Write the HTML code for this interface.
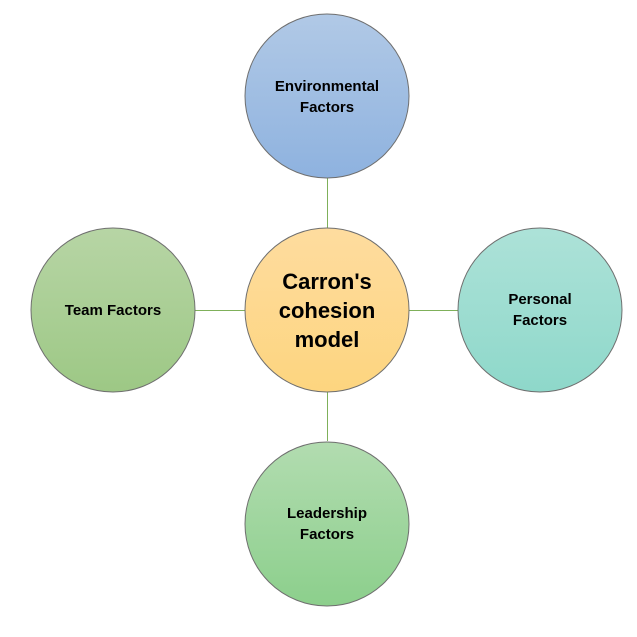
<!DOCTYPE html>
<html><head><meta charset="utf-8"><style>body{margin:0;background:#fff}</style></head><body>
<svg width="637" height="632" xmlns="http://www.w3.org/2000/svg" font-family="Liberation Sans, sans-serif" font-weight="bold">
<defs>
<linearGradient id="b" x1="0" y1="0" x2="0" y2="1"><stop offset="0" stop-color="#b1c9e6"/><stop offset="1" stop-color="#8eb2df"/></linearGradient>
<linearGradient id="o" x1="0" y1="0" x2="0" y2="1"><stop offset="0" stop-color="#fedc9f"/><stop offset="1" stop-color="#fdd57f"/></linearGradient>
<linearGradient id="g" x1="0" y1="0" x2="0" y2="1"><stop offset="0" stop-color="#b7d5a5"/><stop offset="1" stop-color="#9dc885"/></linearGradient>
<linearGradient id="t" x1="0" y1="0" x2="0" y2="1"><stop offset="0" stop-color="#ade2d8"/><stop offset="1" stop-color="#8ed8ca"/></linearGradient>
<linearGradient id="l" x1="0" y1="0" x2="0" y2="1"><stop offset="0" stop-color="#b2dcb0"/><stop offset="1" stop-color="#8ccf8c"/></linearGradient>
</defs>
<g stroke="#7fb05a" stroke-width="1">
<line x1="327.5" y1="178" x2="327.5" y2="228"/>
<line x1="327.5" y1="392" x2="327.5" y2="441"/>
<line x1="195" y1="310.5" x2="245" y2="310.5"/>
<line x1="409" y1="310.5" x2="458" y2="310.5"/>
</g>
<g stroke="#6f6f6f" stroke-width="1">
<circle cx="327" cy="96" r="82" fill="url(#b)"/>
<circle cx="327" cy="310" r="82" fill="url(#o)"/>
<circle cx="113" cy="310" r="82" fill="url(#g)"/>
<circle cx="540" cy="310" r="82" fill="url(#t)"/>
<circle cx="327" cy="524" r="82" fill="url(#l)"/>
</g>
<g text-anchor="middle" fill="#000" font-size="15">
<text x="327" y="91">Environmental</text><text x="327" y="112">Factors</text>
<text x="113" y="315">Team Factors</text>
<text x="540" y="304">Personal</text><text x="540" y="325">Factors</text>
<text x="327" y="518">Leadership</text><text x="327" y="539">Factors</text>
<g font-size="22"><text x="327" y="289">Carron's</text><text x="327" y="318">cohesion</text><text x="327" y="347">model</text></g>
</g>
</svg>
</body></html>
